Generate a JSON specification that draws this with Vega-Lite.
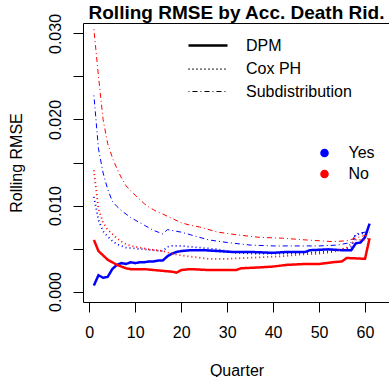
{
  "$schema": "https://vega.github.io/schema/vega-lite/v6.json",
  "autosize": {"type": "none"},
  "width": 307,
  "height": 279,
  "padding": {"left": 83, "top": 23, "right": 0, "bottom": 75},
  "background": "white",
  "config": {
    "font": "Liberation Sans",
    "view": {"stroke": "black", "strokeWidth": 1},
    "axis": {"labelFont": "Liberation Sans", "titleFont": "Liberation Sans", "labelFontSize": 16, "titleFontSize": 16, "titleFontWeight": "normal", "labelColor": "black", "titleColor": "black", "tickColor": "black", "tickSize": 10, "grid": false, "domain": false},
    "legend": {"labelFont": "Liberation Sans", "labelFontSize": 16, "labelColor": "black", "padding": 0}
  },
  "title": {"text": "Rolling RMSE by Acc. Death Rid.", "font": "Liberation Sans", "fontSize": 19, "fontWeight": "bold", "color": "black", "frame": "group", "anchor": "middle", "baseline": "alphabetic", "offset": 0, "dy": 25},
  "data": {"values": [
    {"quarter":1,"group":"Yes","model":"DPM","rmse":0.0007},{"quarter":2,"group":"Yes","model":"DPM","rmse":0.0019},{"quarter":3,"group":"Yes","model":"DPM","rmse":0.0016},{"quarter":4,"group":"Yes","model":"DPM","rmse":0.0017},{"quarter":5,"group":"Yes","model":"DPM","rmse":0.0026},{"quarter":6,"group":"Yes","model":"DPM","rmse":0.0031},{"quarter":7,"group":"Yes","model":"DPM","rmse":0.0033},{"quarter":8,"group":"Yes","model":"DPM","rmse":0.0032},{"quarter":9,"group":"Yes","model":"DPM","rmse":0.0034},{"quarter":10,"group":"Yes","model":"DPM","rmse":0.0033},{"quarter":11,"group":"Yes","model":"DPM","rmse":0.0034},{"quarter":12,"group":"Yes","model":"DPM","rmse":0.0034},{"quarter":13,"group":"Yes","model":"DPM","rmse":0.0035},{"quarter":14,"group":"Yes","model":"DPM","rmse":0.0035},{"quarter":15,"group":"Yes","model":"DPM","rmse":0.0036},{"quarter":16,"group":"Yes","model":"DPM","rmse":0.0036},{"quarter":17,"group":"Yes","model":"DPM","rmse":0.0041},{"quarter":18,"group":"Yes","model":"DPM","rmse":0.0044},{"quarter":19,"group":"Yes","model":"DPM","rmse":0.0046},{"quarter":20,"group":"Yes","model":"DPM","rmse":0.0047},{"quarter":22,"group":"Yes","model":"DPM","rmse":0.0048},{"quarter":25,"group":"Yes","model":"DPM","rmse":0.0048},{"quarter":28,"group":"Yes","model":"DPM","rmse":0.0047},{"quarter":31,"group":"Yes","model":"DPM","rmse":0.0046},{"quarter":35,"group":"Yes","model":"DPM","rmse":0.0046},{"quarter":40,"group":"Yes","model":"DPM","rmse":0.0045},{"quarter":43,"group":"Yes","model":"DPM","rmse":0.0046},{"quarter":47,"group":"Yes","model":"DPM","rmse":0.0046},{"quarter":48,"group":"Yes","model":"DPM","rmse":0.0048},{"quarter":52,"group":"Yes","model":"DPM","rmse":0.0049},{"quarter":55,"group":"Yes","model":"DPM","rmse":0.0048},{"quarter":57,"group":"Yes","model":"DPM","rmse":0.0048},{"quarter":58,"group":"Yes","model":"DPM","rmse":0.0056},{"quarter":59,"group":"Yes","model":"DPM","rmse":0.0057},{"quarter":60,"group":"Yes","model":"DPM","rmse":0.0063},{"quarter":61,"group":"Yes","model":"DPM","rmse":0.0079},
    {"quarter":1,"group":"No","model":"DPM","rmse":0.0060},{"quarter":2,"group":"No","model":"DPM","rmse":0.0047},{"quarter":3,"group":"No","model":"DPM","rmse":0.0042},{"quarter":4,"group":"No","model":"DPM","rmse":0.0037},{"quarter":5,"group":"No","model":"DPM","rmse":0.0034},{"quarter":6,"group":"No","model":"DPM","rmse":0.0031},{"quarter":7,"group":"No","model":"DPM","rmse":0.0029},{"quarter":8,"group":"No","model":"DPM","rmse":0.0027},{"quarter":9,"group":"No","model":"DPM","rmse":0.0026},{"quarter":10,"group":"No","model":"DPM","rmse":0.0026},{"quarter":12,"group":"No","model":"DPM","rmse":0.0026},{"quarter":14,"group":"No","model":"DPM","rmse":0.0025},{"quarter":16,"group":"No","model":"DPM","rmse":0.0024},{"quarter":18,"group":"No","model":"DPM","rmse":0.0023},{"quarter":19,"group":"No","model":"DPM","rmse":0.0022},{"quarter":20,"group":"No","model":"DPM","rmse":0.0025},{"quarter":22,"group":"No","model":"DPM","rmse":0.0026},{"quarter":26,"group":"No","model":"DPM","rmse":0.0025},{"quarter":30,"group":"No","model":"DPM","rmse":0.0025},{"quarter":32,"group":"No","model":"DPM","rmse":0.0025},{"quarter":33,"group":"No","model":"DPM","rmse":0.0027},{"quarter":37,"group":"No","model":"DPM","rmse":0.0028},{"quarter":40,"group":"No","model":"DPM","rmse":0.0029},{"quarter":43,"group":"No","model":"DPM","rmse":0.0031},{"quarter":47,"group":"No","model":"DPM","rmse":0.0032},{"quarter":50,"group":"No","model":"DPM","rmse":0.0032},{"quarter":53,"group":"No","model":"DPM","rmse":0.0034},{"quarter":55,"group":"No","model":"DPM","rmse":0.0035},{"quarter":56,"group":"No","model":"DPM","rmse":0.0039},{"quarter":60,"group":"No","model":"DPM","rmse":0.0038},{"quarter":61,"group":"No","model":"DPM","rmse":0.0062},
    {"quarter":1,"group":"Yes","model":"Cox PH","rmse":0.0110},{"quarter":2,"group":"Yes","model":"Cox PH","rmse":0.0083},{"quarter":3,"group":"Yes","model":"Cox PH","rmse":0.0070},{"quarter":4,"group":"Yes","model":"Cox PH","rmse":0.0064},{"quarter":5,"group":"Yes","model":"Cox PH","rmse":0.0059},{"quarter":6,"group":"Yes","model":"Cox PH","rmse":0.0055},{"quarter":7,"group":"Yes","model":"Cox PH","rmse":0.0053},{"quarter":8,"group":"Yes","model":"Cox PH","rmse":0.0051},{"quarter":10,"group":"Yes","model":"Cox PH","rmse":0.0050},{"quarter":12,"group":"Yes","model":"Cox PH","rmse":0.0049},{"quarter":14,"group":"Yes","model":"Cox PH","rmse":0.0048},{"quarter":16,"group":"Yes","model":"Cox PH","rmse":0.0047},{"quarter":17,"group":"Yes","model":"Cox PH","rmse":0.0052},{"quarter":18,"group":"Yes","model":"Cox PH","rmse":0.0053},{"quarter":20,"group":"Yes","model":"Cox PH","rmse":0.0053},{"quarter":24,"group":"Yes","model":"Cox PH","rmse":0.0051},{"quarter":28,"group":"Yes","model":"Cox PH","rmse":0.0049},{"quarter":32,"group":"Yes","model":"Cox PH","rmse":0.0045},{"quarter":36,"group":"Yes","model":"Cox PH","rmse":0.0044},{"quarter":42,"group":"Yes","model":"Cox PH","rmse":0.0044},{"quarter":48,"group":"Yes","model":"Cox PH","rmse":0.0045},{"quarter":53,"group":"Yes","model":"Cox PH","rmse":0.0047},{"quarter":56,"group":"Yes","model":"Cox PH","rmse":0.0050},{"quarter":57,"group":"Yes","model":"Cox PH","rmse":0.0052},{"quarter":58,"group":"Yes","model":"Cox PH","rmse":0.0066},{"quarter":60,"group":"Yes","model":"Cox PH","rmse":0.0068},{"quarter":61,"group":"Yes","model":"Cox PH","rmse":0.0068},
    {"quarter":1,"group":"No","model":"Cox PH","rmse":0.0141},{"quarter":2,"group":"No","model":"Cox PH","rmse":0.0096},{"quarter":3,"group":"No","model":"Cox PH","rmse":0.0080},{"quarter":4,"group":"No","model":"Cox PH","rmse":0.0072},{"quarter":5,"group":"No","model":"Cox PH","rmse":0.0067},{"quarter":6,"group":"No","model":"Cox PH","rmse":0.0062},{"quarter":7,"group":"No","model":"Cox PH","rmse":0.0058},{"quarter":8,"group":"No","model":"Cox PH","rmse":0.0055},{"quarter":9,"group":"No","model":"Cox PH","rmse":0.0053},{"quarter":11,"group":"No","model":"Cox PH","rmse":0.0051},{"quarter":13,"group":"No","model":"Cox PH","rmse":0.0049},{"quarter":16,"group":"No","model":"Cox PH","rmse":0.0047},{"quarter":18,"group":"No","model":"Cox PH","rmse":0.0044},{"quarter":20,"group":"No","model":"Cox PH","rmse":0.0042},{"quarter":23,"group":"No","model":"Cox PH","rmse":0.0040},{"quarter":26,"group":"No","model":"Cox PH","rmse":0.0038},{"quarter":30,"group":"No","model":"Cox PH","rmse":0.0038},{"quarter":34,"group":"No","model":"Cox PH","rmse":0.0039},{"quarter":38,"group":"No","model":"Cox PH","rmse":0.0040},{"quarter":42,"group":"No","model":"Cox PH","rmse":0.0041},{"quarter":46,"group":"No","model":"Cox PH","rmse":0.0043},{"quarter":50,"group":"No","model":"Cox PH","rmse":0.0044},{"quarter":53,"group":"No","model":"Cox PH","rmse":0.0046},{"quarter":56,"group":"No","model":"Cox PH","rmse":0.0051},{"quarter":58,"group":"No","model":"Cox PH","rmse":0.0060},{"quarter":60,"group":"No","model":"Cox PH","rmse":0.0060},{"quarter":61,"group":"No","model":"Cox PH","rmse":0.0062},
    {"quarter":1,"group":"Yes","model":"Subdistribution","rmse":0.0228},{"quarter":2,"group":"Yes","model":"Subdistribution","rmse":0.0166},{"quarter":3,"group":"Yes","model":"Subdistribution","rmse":0.0138},{"quarter":4,"group":"Yes","model":"Subdistribution","rmse":0.0119},{"quarter":5,"group":"Yes","model":"Subdistribution","rmse":0.0105},{"quarter":6,"group":"Yes","model":"Subdistribution","rmse":0.0099},{"quarter":7,"group":"Yes","model":"Subdistribution","rmse":0.0094},{"quarter":8,"group":"Yes","model":"Subdistribution","rmse":0.0090},{"quarter":9,"group":"Yes","model":"Subdistribution","rmse":0.0086},{"quarter":10,"group":"Yes","model":"Subdistribution","rmse":0.0083},{"quarter":11,"group":"Yes","model":"Subdistribution","rmse":0.0080},{"quarter":12,"group":"Yes","model":"Subdistribution","rmse":0.0077},{"quarter":13,"group":"Yes","model":"Subdistribution","rmse":0.0074},{"quarter":14,"group":"Yes","model":"Subdistribution","rmse":0.0071},{"quarter":15,"group":"Yes","model":"Subdistribution","rmse":0.0069},{"quarter":16,"group":"Yes","model":"Subdistribution","rmse":0.0067},{"quarter":17,"group":"Yes","model":"Subdistribution","rmse":0.0072},{"quarter":18,"group":"Yes","model":"Subdistribution","rmse":0.0071},{"quarter":20,"group":"Yes","model":"Subdistribution","rmse":0.0069},{"quarter":22,"group":"Yes","model":"Subdistribution","rmse":0.0066},{"quarter":26,"group":"Yes","model":"Subdistribution","rmse":0.0060},{"quarter":30,"group":"Yes","model":"Subdistribution","rmse":0.0057},{"quarter":35,"group":"Yes","model":"Subdistribution","rmse":0.0054},{"quarter":40,"group":"Yes","model":"Subdistribution","rmse":0.0053},{"quarter":45,"group":"Yes","model":"Subdistribution","rmse":0.0053},{"quarter":50,"group":"Yes","model":"Subdistribution","rmse":0.0053},{"quarter":54,"group":"Yes","model":"Subdistribution","rmse":0.0054},{"quarter":57,"group":"Yes","model":"Subdistribution","rmse":0.0057},{"quarter":58,"group":"Yes","model":"Subdistribution","rmse":0.0067},{"quarter":60,"group":"Yes","model":"Subdistribution","rmse":0.0069},{"quarter":61,"group":"Yes","model":"Subdistribution","rmse":0.0069},
    {"quarter":1,"group":"No","model":"Subdistribution","rmse":0.0305},{"quarter":2,"group":"No","model":"Subdistribution","rmse":0.0250},{"quarter":3,"group":"No","model":"Subdistribution","rmse":0.0200},{"quarter":4,"group":"No","model":"Subdistribution","rmse":0.0172},{"quarter":5,"group":"No","model":"Subdistribution","rmse":0.0156},{"quarter":6,"group":"No","model":"Subdistribution","rmse":0.0143},{"quarter":7,"group":"No","model":"Subdistribution","rmse":0.0132},{"quarter":8,"group":"No","model":"Subdistribution","rmse":0.0123},{"quarter":9,"group":"No","model":"Subdistribution","rmse":0.0117},{"quarter":10,"group":"No","model":"Subdistribution","rmse":0.0112},{"quarter":11,"group":"No","model":"Subdistribution","rmse":0.0107},{"quarter":12,"group":"No","model":"Subdistribution","rmse":0.0102},{"quarter":13,"group":"No","model":"Subdistribution","rmse":0.0098},{"quarter":14,"group":"No","model":"Subdistribution","rmse":0.0095},{"quarter":15,"group":"No","model":"Subdistribution","rmse":0.0092},{"quarter":16,"group":"No","model":"Subdistribution","rmse":0.0090},{"quarter":18,"group":"No","model":"Subdistribution","rmse":0.0085},{"quarter":20,"group":"No","model":"Subdistribution","rmse":0.0080},{"quarter":22,"group":"No","model":"Subdistribution","rmse":0.0077},{"quarter":24,"group":"No","model":"Subdistribution","rmse":0.0075},{"quarter":28,"group":"No","model":"Subdistribution","rmse":0.0069},{"quarter":32,"group":"No","model":"Subdistribution","rmse":0.0066},{"quarter":37,"group":"No","model":"Subdistribution","rmse":0.0063},{"quarter":42,"group":"No","model":"Subdistribution","rmse":0.0062},{"quarter":47,"group":"No","model":"Subdistribution","rmse":0.0060},{"quarter":53,"group":"No","model":"Subdistribution","rmse":0.0058},{"quarter":56,"group":"No","model":"Subdistribution","rmse":0.0059},{"quarter":58,"group":"No","model":"Subdistribution","rmse":0.0062},{"quarter":59,"group":"No","model":"Subdistribution","rmse":0.0064},{"quarter":60,"group":"No","model":"Subdistribution","rmse":0.0065},{"quarter":61,"group":"No","model":"Subdistribution","rmse":0.0065}
  ]},
  "mark": {"type": "line", "interpolate": "linear", "strokeCap": "butt"},
  "encoding": {
    "x": {"field": "quarter", "type": "quantitative", "scale": {"domain": [-1.37, 65.44], "nice": false, "zero": false},
      "axis": {"values": [0, 10, 20, 30, 40, 50, 60], "title": "Quarter", "labelPadding": 25, "labelBaseline": "alphabetic", "titleBaseline": "alphabetic", "titleY": 73}},
    "y": {"field": "rmse", "type": "quantitative", "scale": {"domain": [-0.00122, 0.03122], "nice": false, "zero": false},
      "axis": {"values": [0, 0.005, 0.01, 0.015, 0.02, 0.025, 0.03], "labelExpr": "round(datum.value*200) % 2 == 0 ? format(datum.value, '.3f') : ''", "labelAngle": 270, "labelAlign": "center", "labelBaseline": "alphabetic", "labelPadding": 13, "title": "Rolling RMSE", "titleAngle": 270, "titleBaseline": "alphabetic", "titleX": -62, "titleY": 139.5}},
    "color": {"field": "group", "type": "nominal", "scale": {"domain": ["Yes", "No"], "range": ["#0000FF", "#FF0000"]},
      "legend": {"title": null, "orient": "none", "legendX": 233.5, "legendY": 122, "symbolType": "circle", "symbolSize": 50, "labelOffset": 16, "rowPadding": 5,
        "encode": {"symbols": {"update": {"fill": {"scale": "color", "field": "value"}, "stroke": {"value": "transparent"}, "fillOpacity": {"value": 1}}}}}},
    "strokeDash": {"field": "model", "type": "nominal", "scale": {"domain": ["DPM", "Cox PH", "Subdistribution"], "range": [[1, 0], [1, 3], [1, 3, 5, 3]]},
      "legend": {"title": null, "orient": "none", "legendX": 115.5, "legendY": 13, "symbolType": "M-2.44,0H2.44", "symbolSize": 256, "symbolStrokeColor": "black", "labelOffset": 28.5, "rowPadding": 6}},
    "strokeWidth": {"field": "model", "type": "nominal", "scale": {"domain": ["DPM", "Cox PH", "Subdistribution"], "range": [2.5, 1, 1]},
      "legend": {"title": null, "orient": "none", "legendX": 115.5, "legendY": 13, "symbolType": "M-2.44,0H2.44", "symbolSize": 256, "symbolStrokeColor": "black", "labelOffset": 28.5, "rowPadding": 6}}
  }
}
